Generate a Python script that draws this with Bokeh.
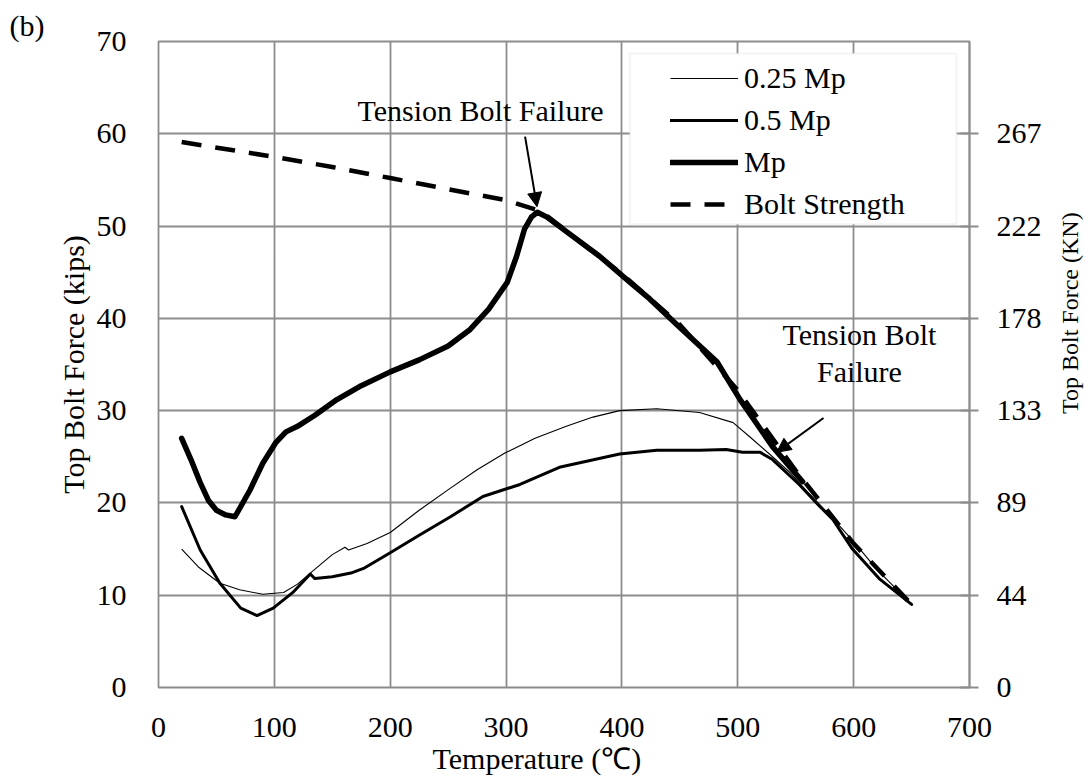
import math
from bokeh.plotting import figure
from bokeh.layouts import row
from bokeh.models import (Range1d, LinearAxis, FixedTicker, Legend, LegendItem,
                          Label, Arrow, NormalHead, BoxAnnotation, Title)
from bokeh.embed import file_html
from bokeh.resources import INLINE

FONT = "Liberation Serif"
FS = "30px"

# ---- data ----
t_q = [20, 35, 53, 70, 90, 108, 120, 131, 150, 161, 164, 180, 200, 225, 252, 275, 299, 325, 352, 375, 398, 430, 467, 496, 510, 530, 545, 560, 580, 600, 620, 650]
f_q = [15.0, 13.0, 11.3, 10.6, 10.1, 10.3, 11.2, 12.4, 14.4, 15.2, 14.9, 15.6, 16.8, 19.2, 21.6, 23.6, 25.4, 27.0, 28.3, 29.3, 30.0, 30.2, 29.8, 28.7, 27.2, 25.0, 23.3, 21.2, 18.6, 15.8, 12.8, 9.0]

t_h = [20, 36, 53, 71, 85, 99, 116, 131, 135, 150, 166, 177, 200, 225, 252, 280, 312, 347, 398, 430, 467, 490, 504, 519, 530, 553, 571, 582, 599, 622, 650]
f_h = [19.6, 14.9, 11.3, 8.6, 7.8, 8.6, 10.3, 12.3, 11.8, 12.0, 12.4, 12.9, 14.6, 16.5, 18.5, 20.7, 22.0, 23.9, 25.3, 25.7, 25.7, 25.8, 25.5, 25.5, 24.7, 22.0, 19.6, 18.2, 15.0, 11.8, 9.0]

t_mp = [20, 28, 36, 43, 50, 58, 66, 79, 90, 101, 110, 120, 135, 154, 175, 200, 225, 250, 269, 285, 301, 309, 316, 322, 327, 335, 381, 407, 424, 450, 482, 502, 530, 556]
f_mp = [27.0, 24.7, 22.2, 20.3, 19.2, 18.7, 18.5, 21.4, 24.3, 26.5, 27.7, 28.3, 29.5, 31.2, 32.7, 34.2, 35.5, 37.0, 38.8, 41.0, 43.9, 46.7, 49.7, 51.0, 51.5, 51.0, 46.7, 43.9, 42.1, 39.0, 35.3, 31.2, 26.1, 22.3]

t_bs = [20, 100, 150, 200, 250, 300, 330, 400, 450, 500, 550, 600, 650]
f_bs = [59.1, 57.5, 56.4, 55.2, 54.0, 52.8, 51.6, 44.8, 39.3, 32.2, 23.5, 15.6, 9.0]

x_ticks = [0, 100, 200, 300, 400, 500, 600, 700]
y_ticks = [0, 10, 20, 30, 40, 50, 60, 70]
kn_ticks = [0, 10, 20, 30, 40, 50, 60]
kn_labels = ["0", "44", "89", "133", "178", "222", "267"]

GRID = "#8c8c8c"

p = figure(width=1044, height=780, output_backend="svg", toolbar_location=None,
           x_range=Range1d(0, 700), y_range=Range1d(0, 70),
           min_border_left=158, min_border_right=75, min_border_top=41, min_border_bottom=93,
           y_axis_label="Top Bolt Force (kips)", title="(b)")
p.background_fill_color = "white"
p.border_fill_color = "white"
p.outline_line_color = GRID
p.outline_line_width = 1.8

p.title.align = "left"
p.title.offset = -149
p.title.text_font = FONT
p.title.text_font_size = FS
p.title.text_font_style = "normal"
p.title.text_color = "black"
p.title.standoff = 0

for ax in (p.xaxis[0], p.yaxis[0]):
    ax.axis_line_color = None
    ax.major_tick_line_color = None
    ax.minor_tick_line_color = None
    ax.major_label_text_font = FONT
    ax.major_label_text_font_size = FS
    ax.major_label_text_color = "black"
    ax.axis_label_text_font = FONT
    ax.axis_label_text_font_size = FS
    ax.axis_label_text_font_style = "normal"
    ax.axis_label_text_color = "black"
p.xaxis[0].ticker = FixedTicker(ticks=x_ticks)
p.yaxis[0].ticker = FixedTicker(ticks=y_ticks)
p.xaxis[0].major_label_standoff = 24
p.yaxis[0].major_label_standoff = 26
p.yaxis[0].axis_label_standoff = 4

# x-axis title (offset to the left like the original)
p.add_layout(Title(text="Temperature (\u2103)", align="left", offset=274, standoff=0,
                   text_font=FONT, text_font_size=FS, text_font_style="normal",
                   text_color="black"), "below")

ra = LinearAxis(ticker=FixedTicker(ticks=kn_ticks))
ra.major_label_overrides = {k: v for k, v in zip(kn_ticks, kn_labels)}
ra.axis_line_color = GRID
ra.axis_line_width = 1.8
ra.major_tick_line_color = GRID
ra.major_tick_line_width = 1.8
ra.major_tick_in = 9
ra.major_tick_out = 9
ra.minor_tick_line_color = None
ra.major_label_standoff = 18
ra.major_label_text_font = FONT
ra.major_label_text_font_size = FS
ra.major_label_text_color = "black"
p.add_layout(ra, "right")

p.xgrid.ticker = FixedTicker(ticks=x_ticks)
p.ygrid.ticker = FixedTicker(ticks=y_ticks)
for g in (p.xgrid[0], p.ygrid[0]):
    g.grid_line_color = GRID
    g.grid_line_width = 1.8

r_q = p.line(t_q, f_q, line_color="black", line_width=1.1, line_join="round")
r_h = p.line(t_h, f_h, line_color="black", line_width=3, line_join="round", line_cap="round")
r_mp = p.line(t_mp, f_mp, line_color="black", line_width=5.5, line_join="round", line_cap="round")
r_bs = p.line(t_bs, f_bs, line_color="black", line_width=4.5, line_dash="20 14")

# legend box
box = BoxAnnotation(left=406.9, right=688.8, bottom=50.2, top=68.7,
                    fill_color="white", fill_alpha=1.0, line_color="#d9d9d9", line_width=2)
p.add_layout(box)

legend = Legend(items=[LegendItem(label="0.25 Mp", renderers=[r_q]),
                       LegendItem(label="0.5 Mp", renderers=[r_h]),
                       LegendItem(label="Mp", renderers=[r_mp]),
                       LegendItem(label="Bolt Strength", renderers=[r_bs])],
                location=(512, 466), padding=0, margin=0, spacing=8,
                glyph_width=68, glyph_height=30, label_height=30, label_standoff=6,
                border_line_color=None, background_fill_alpha=0,
                label_text_font=FONT, label_text_font_size=FS, label_text_color="black")
p.add_layout(legend)

# annotations
for x, y, t in [(278, 62.5, "Tension Bolt Failure"), (605, 38.2, "Tension Bolt"), (605, 34.2, "Failure")]:
    p.add_layout(Label(x=x, y=y, text=t, text_align="center", text_baseline="middle",
                       text_font=FONT, text_font_size=FS, text_color="black"))
p.add_layout(Arrow(x_start=316.4, y_start=59.7, x_end=326.7, y_end=52.1, line_width=2,
                   end=NormalHead(size=14, fill_color="black", line_color="black")))
p.add_layout(Arrow(x_start=574.0, y_start=29.2, x_end=533.6, y_end=25.5, line_width=2,
                   end=NormalHead(size=14, fill_color="black", line_color="black")))

# right-hand axis title (secondary axis, kN), drawn in a narrow strip
q = figure(width=40, height=780, output_backend="svg", toolbar_location=None,
           x_range=Range1d(0, 40), y_range=Range1d(0, 780),
           min_border=0, x_axis_location=None, y_axis_location=None)
q.grid.visible = False
q.outline_line_color = None
q.background_fill_color = "white"
q.border_fill_color = "white"
q.add_layout(Label(x=25, y=452, text="Top Bolt Force (KN)", angle=math.pi / 2,
                   text_align="center", text_baseline="middle",
                   text_font=FONT, text_font_size="24px", text_color="black"))

layout = row(p, q, spacing=0)
open("out.html", "w").write(file_html(layout, INLINE))
